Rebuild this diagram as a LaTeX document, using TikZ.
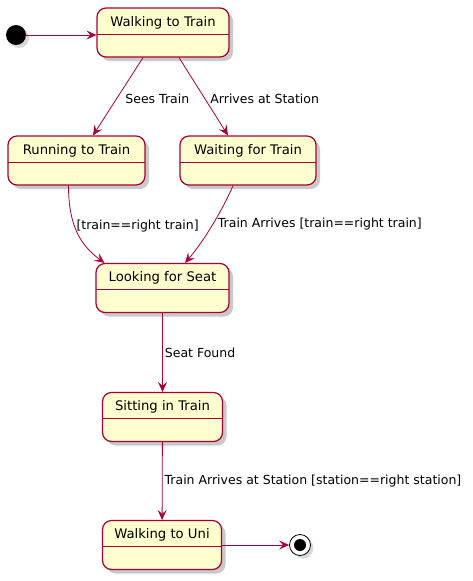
\documentclass[tikz,border=0pt]{standalone}
\usepackage{fontspec}
\setmainfont{DejaVu Sans}
\usetikzlibrary{arrows.meta,shadows}

\definecolor{umlred}{HTML}{A80036}
\definecolor{umlfill}{HTML}{FEFECE}

\tikzset{
  state/.style={draw=umlred, fill=umlfill, line width=1.2pt, rounded corners=9pt,
    minimum width=#1, inner xsep=0pt, inner ysep=5pt, text height=13pt, text depth=26pt,
    font=\fontsize{13.2}{15}\selectfont,
    drop shadow={shadow xshift=4pt, shadow yshift=-4pt, opacity=.3, fill=black!70},
    path picture={\draw[umlred, line width=1pt]
      ([yshift=-26pt]path picture bounding box.north west) --
      ([yshift=-26pt]path picture bounding box.north east);}},
  flow/.style={draw=umlred, line width=0.8pt, -{Stealth[length=10pt,width=9pt,inset=4pt]}},
  lbl/.style={font=\fontsize{12.5}{14}\selectfont, inner sep=0pt, anchor=west},
}

\begin{document}
\begin{tikzpicture}[x=1pt, y=-1pt]
\useasboundingbox (0,0) rectangle (472,581);

% states
\node[state=132pt] (wtrain) at (163,32.5) {Walking to Train};
\node[state=137pt] (run) at (76.5,160.5) {Running to Train};
\node[state=136pt] (wait) at (248,160.5) {Waiting for Train};
\node[state=133pt] (look) at (162.5,288) {Looking for Seat};
\node[state=120pt] (sit) at (162.5,417) {Sitting in Train};
\node[state=119pt] (uni) at (162,545) {Walking to Uni};

% start and end
\node[circle, fill=black, minimum size=20pt, inner sep=0pt,
  drop shadow={shadow xshift=3pt, shadow yshift=-3pt, opacity=.3}] (init) at (16,35) {};
\node[circle, draw=black, fill=white, line width=0.8pt, minimum size=21pt, inner sep=0pt,
  drop shadow={shadow xshift=3pt, shadow yshift=-3pt, opacity=.3}] (final) at (300,545) {};
\node[circle, fill=black, minimum size=12pt, inner sep=0pt] (finaldot) at (final) {};

% transitions
\draw[flow] (init) -- (init -| wtrain.west);
\draw[flow] ([xshift=-20pt]wtrain.south) -- node[lbl, pos=0.5, xshift=7pt, yshift=-2pt] (l1) {Sees Train} ([xshift=16.5pt]run.north);
\draw[flow] ([xshift=16pt]wtrain.south) -- node[lbl, pos=0.5, xshift=6.5pt, yshift=-2pt] (l2) {Arrives at Station} ([xshift=-20pt]wait.north);
\draw[flow] ([xshift=-8pt]run.south) .. controls (68.5,225) and (80,245) .. node[lbl, pos=0.4, xshift=2pt, yshift=-1pt] (l3) {[train==right train]} ([xshift=-58pt]look.north);
\draw[flow] ([xshift=-15pt]wait.south) .. controls (225,205) and (205,240) .. node[lbl, pos=0.5, xshift=4pt, yshift=-1pt] (l4) {Train Arrives [train==right train]} ([xshift=22.5pt]look.north);
\draw[flow] (look) -- node[lbl, pos=0.5, xshift=2pt] (l5) {Seat Found} (sit);
\draw[flow] (sit) -- node[lbl, pos=0.5, xshift=2pt] (l6) {Train Arrives at Station [station==right station]} (uni);
\draw[flow] (uni) -- (final);
\end{tikzpicture}
\end{document}
